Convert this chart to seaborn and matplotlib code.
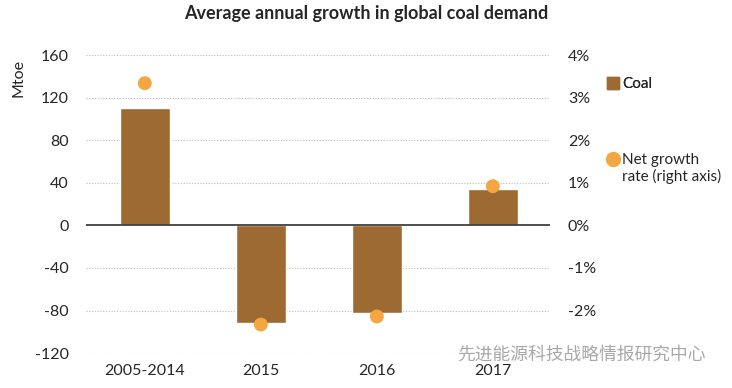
import numpy as np
import pandas as pd
import matplotlib
matplotlib.use('Agg')
import matplotlib.pyplot as plt
import seaborn as sns
from matplotlib.lines import Line2D

# 数据
periods = ['2005-2014', '2015', '2016', '2017']
coal_mtoe = [110, -92, -82, 34]
growth_rate = [3.34, -2.33, -2.14, 0.92]  # %

left_ticks = [-120, -80, -40, 0, 40, 80, 120, 160]
right_ticks = [-3, -2, -1, 0, 1, 2, 3, 4]
right_labels = ['', '-2%', '-1%', '0%', '1%', '2%', '3%', '4%']

bar_color = '#9E6A34'
dot_color = '#F4A640'

sns.set_theme(style='white')
plt.rcParams['font.family'] = ['Lato', 'Noto Sans CJK SC', 'DejaVu Sans']

df = pd.DataFrame({'period': periods, 'coal': coal_mtoe,
                   'pos': np.arange(len(periods)), 'rate': growth_rate})

fig = plt.figure(figsize=(7.32, 3.88), dpi=100)
ax = fig.add_axes([0.117, 0.090, 0.634, 0.768])

# 网格线
for t in left_ticks:
    if t == 0:
        continue
    ax.axhline(t, color='#BBBBBB', linestyle=(0, (1, 1.5)), linewidth=0.8, zorder=0)

sns.barplot(data=df, x='period', y='coal', color=bar_color, width=0.43,
            saturation=1, ax=ax, zorder=2)
ax.axhline(0, color='#404040', linewidth=1.3, zorder=3)

ax.set_xlim(-0.51, 3.49)
ax.set_ylim(-120, 160)
ax.set_yticks(left_ticks)
ax.set_yticklabels([f'{t}' if t >= 0 else f'-{abs(t)}' for t in left_ticks])
ax.set_xlabel('')
ax.set_ylabel('')
ax.tick_params(axis='y', labelsize=11.5, length=0, pad=12)
ax.tick_params(axis='x', labelsize=11.5, length=0, pad=8)
for s in ax.spines.values():
    s.set_visible(False)

# 右轴
ax2 = ax.twinx()
sns.scatterplot(data=df, x='pos', y='rate', color=dot_color, s=100,
                edgecolor='none', ax=ax2, zorder=5)
ax2.set_ylim(-3, 4)
ax2.set_yticks(right_ticks)
ax2.set_yticklabels(right_labels)
ax2.set_ylabel('')
ax2.tick_params(axis='y', labelsize=11.5, length=0, pad=13)
ax2.grid(False)
for s in ax2.spines.values():
    s.set_visible(False)

fig.text(0.016, 0.80, 'Mtoe', rotation=90, fontsize=11.5, va='center', ha='left')
fig.text(0.5, 0.965, 'Average annual growth in global coal demand',
         fontsize=13, fontweight='bold', ha='center', va='center')

# 图例
h_coal = Line2D([], [], marker='s', linestyle='none', color=bar_color, markersize=9)
h_rate = Line2D([], [], marker='o', linestyle='none', color=dot_color, markersize=10)
h_none = Line2D([], [], linestyle='none')
leg1 = fig.legend([h_coal], ['Coal'], loc='center left',
                  bbox_to_anchor=(0.818, 0.783), frameon=False, fontsize=11,
                  handletextpad=0.15, handlelength=0.9, borderpad=0)
leg2 = fig.legend([h_rate, h_none], ['Net growth', 'rate (right axis)'],
                  loc='upper left', bbox_to_anchor=(0.818, 0.625), frameon=False,
                  fontsize=11, labelspacing=0.15, handletextpad=0.15,
                  handlelength=0.9, borderpad=0)
fig.add_artist(leg1)

# 水印
fig.text(0.624, 0.085, '先进能源科技战略情报研究中心', fontsize=12.8,
         color='#A8A8A8', ha='left', va='center',
         family=['Noto Sans CJK SC', 'DejaVu Sans'])

fig.savefig('out.png', dpi=100)
